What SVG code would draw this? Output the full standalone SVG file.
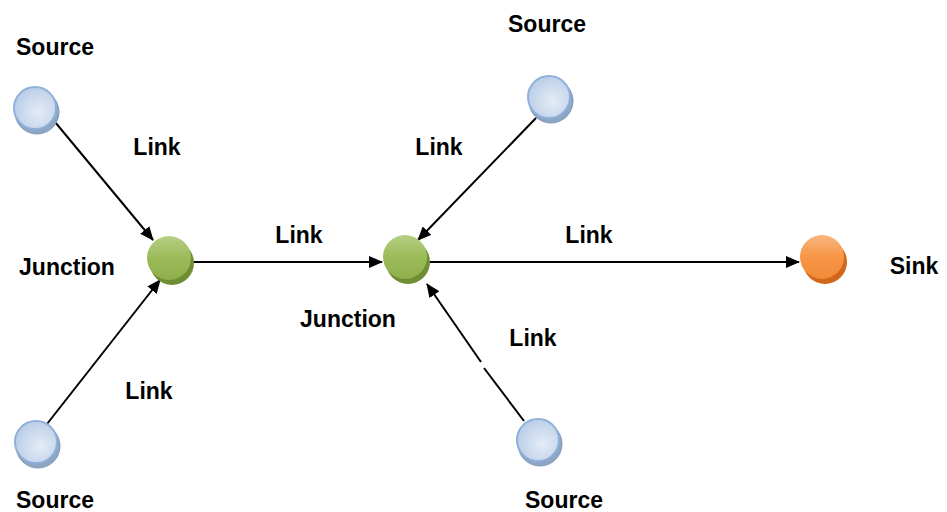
<svg xmlns="http://www.w3.org/2000/svg" width="947" height="512" viewBox="0 0 947 512">
<style>
.lbl{font-family:"Liberation Sans",Arial,sans-serif;font-weight:bold;font-size:23px;fill:#000;text-anchor:middle}
.edge{stroke:#000;stroke-width:2;fill:none;marker-end:url(#ah)}
.srcRim{fill:#8ea6c4;stroke:#7f97b5;stroke-width:1}
.srcTop{fill:url(#gBlue);stroke:#8eb0dc;stroke-width:2}
.jRim{fill:#6f8d32}
.jTop{fill:url(#gGreen)}
.sRim{fill:#d2661a}
.sTop{fill:url(#gOrange)}
</style>
<defs>
<marker id="ah" markerWidth="14" markerHeight="12" refX="13" refY="6" orient="auto" markerUnits="userSpaceOnUse">
<path d="M0,0 L14,6 L0,12 Z" fill="#000"/>
</marker>
<radialGradient id="gBlue" cx="0.6" cy="0.6" r="0.6">
<stop offset="0" stop-color="#e4ecf6"/>
<stop offset="1" stop-color="#bccfe8"/>
</radialGradient>
<linearGradient id="gGreen" x1="0" y1="0" x2="0" y2="1">
<stop offset="0" stop-color="#b5cf84"/>
<stop offset="0.5" stop-color="#9bbb59"/>
<stop offset="1" stop-color="#8fb04d"/>
</linearGradient>
<linearGradient id="gOrange" x1="0" y1="0" x2="0" y2="1">
<stop offset="0" stop-color="#fab680"/>
<stop offset="0.5" stop-color="#f79646"/>
<stop offset="1" stop-color="#f08a38"/>
</linearGradient>
</defs>

<g id="connectors">
<line class="edge" x1="55" y1="122" x2="153" y2="240"/>
<line class="edge" x1="47" y1="424" x2="160" y2="280"/>
<line class="edge" x1="192" y1="262" x2="382" y2="262"/>
<line class="edge" x1="536" y1="118" x2="418" y2="240"/>
<line x1="524" y1="421" x2="484" y2="368" stroke="#000" stroke-width="2"/>
<line class="edge" x1="481" y1="362" x2="427" y2="284"/>
<line class="edge" x1="429" y1="262" x2="799" y2="262"/>
</g>

<g id="source-top-left">
<circle class="srcRim" cx="37" cy="112" r="22"/>
<circle class="srcTop" cx="35" cy="108" r="21"/>
</g>
<g id="source-bottom-left">
<circle class="srcRim" cx="38" cy="446" r="22"/>
<circle class="srcTop" cx="36" cy="442" r="21"/>
</g>
<g id="source-top-middle">
<circle class="srcRim" cx="551" cy="101" r="22"/>
<circle class="srcTop" cx="549" cy="97" r="21"/>
</g>
<g id="source-bottom-middle">
<circle class="srcRim" cx="540" cy="444" r="22"/>
<circle class="srcTop" cx="538" cy="440" r="21"/>
</g>
<g id="junction-1">
<circle class="jRim" cx="172" cy="263" r="22"/>
<circle class="jTop" cx="169" cy="258" r="22"/>
</g>
<g id="junction-2">
<circle class="jRim" cx="408" cy="262" r="22"/>
<circle class="jTop" cx="405" cy="257" r="22"/>
</g>
<g id="sink">
<circle class="sRim" cx="825" cy="262" r="22"/>
<circle class="sTop" cx="822" cy="257" r="22"/>
</g>

<g id="labels">
<text class="lbl" x="55" y="55">Source</text>
<text class="lbl" x="547" y="32">Source</text>
<text class="lbl" x="55" y="508">Source</text>
<text class="lbl" x="564" y="508">Source</text>
<text class="lbl" x="157" y="155">Link</text>
<text class="lbl" x="439" y="155">Link</text>
<text class="lbl" x="299" y="243">Link</text>
<text class="lbl" x="589" y="243">Link</text>
<text class="lbl" x="533" y="346">Link</text>
<text class="lbl" x="149" y="399">Link</text>
<text class="lbl" x="67" y="275">Junction</text>
<text class="lbl" x="348" y="327">Junction</text>
<text class="lbl" x="914" y="274">Sink</text>
</g>
</svg>
